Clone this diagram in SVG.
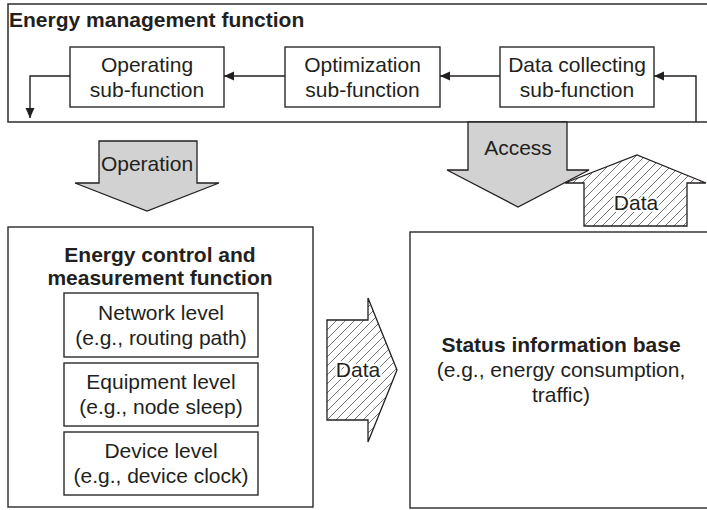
<svg xmlns="http://www.w3.org/2000/svg" width="707" height="510" viewBox="0 0 707 510">
<defs>
<style>
.box{fill:#fff;stroke:#2a2a2a;stroke-width:1.4}
.frame{fill:none;stroke:#3a3a3a;stroke-width:1.6}
.t{font-family:"Liberation Sans",Arial,sans-serif;font-size:21px;fill:#231f20;text-anchor:middle}
.b{font-weight:bold}
.conn{fill:none;stroke:#231f20;stroke-width:1.4}
.fat{fill:#d2d2d2;stroke:#231f20;stroke-width:1.3;stroke-linejoin:miter}
.hatch{fill:url(#hp);stroke:#231f20;stroke-width:1.3}
.knock{stroke:#fff;stroke-width:4;paint-order:stroke;stroke-linejoin:round}
</style>
<marker id="ah" viewBox="0 0 10 10" refX="10" refY="5" markerWidth="10" markerHeight="10" markerUnits="userSpaceOnUse" orient="auto">
<path d="M0,0.5 L10,5 L0,9.5 Z" fill="#231f20"/>
</marker>
<pattern id="hp" patternUnits="userSpaceOnUse" width="9" height="9">
<rect width="9" height="9" fill="#fff"/>
<path d="M-2.25,2.25 L2.25,-2.25 M0,9 L9,0 M6.75,11.25 L11.25,6.75" stroke="#3a3a3a" stroke-width="0.7"/>
</pattern>
</defs>
<rect width="707" height="510" fill="#fff"/>

<g id="energy-management-function">
<rect class="frame" x="8" y="4" width="710" height="118"/>
<text class="t b" x="9" y="27" style="text-anchor:start">Energy management function</text>
</g>

<g id="operating-sub-function">
<rect class="box" x="70" y="47" width="154" height="60"/>
<text class="t" x="147" y="72">Operating</text>
<text class="t" x="147" y="97">sub-function</text>
</g>

<g id="optimization-sub-function">
<rect class="box" x="285" y="47" width="155" height="60"/>
<text class="t" x="362.5" y="72">Optimization</text>
<text class="t" x="362.5" y="97">sub-function</text>
</g>

<g id="data-collecting-sub-function">
<rect class="box" x="500" y="47" width="154" height="60"/>
<text class="t" x="577" y="72">Data collecting</text>
<text class="t" x="577" y="97">sub-function</text>
</g>

<g id="energy-control-and-measurement-function">
<rect class="box" x="8" y="227" width="305" height="280"/>
<text class="t b" x="160" y="262">Energy control and</text>
<text class="t b" x="160" y="285">measurement function</text>
</g>

<g id="network-level">
<rect class="box" x="64" y="293" width="194" height="64"/>
<text class="t" x="161" y="320">Network level</text>
<text class="t" x="161" y="345">(e.g., routing path)</text>
</g>

<g id="equipment-level">
<rect class="box" x="64" y="363" width="194" height="63"/>
<text class="t" x="161" y="389">Equipment level</text>
<text class="t" x="161" y="414">(e.g., node sleep)</text>
</g>

<g id="device-level">
<rect class="box" x="64" y="432" width="194" height="63"/>
<text class="t" x="161" y="458">Device level</text>
<text class="t" x="161" y="483">(e.g., device clock)</text>
</g>

<g id="status-information-base">
<rect class="box" x="410" y="232" width="310" height="276"/>
<text class="t b" x="561" y="352">Status information base</text>
<text class="t" x="561" y="377">(e.g., energy consumption,</text>
<text class="t" x="561" y="402">traffic)</text>
</g>

<g id="connectors">
<path class="conn" d="M696,122 V76 H654" marker-end="url(#ah)"/>
<path class="conn" d="M500,76 H440" marker-end="url(#ah)"/>
<path class="conn" d="M285,76 H224" marker-end="url(#ah)"/>
<path class="conn" d="M70,76 H30 V118" marker-end="url(#ah)"/>

<g id="operation-arrow">
<path class="fat" d="M99,141 H197 V183 H219 L147,211 L75,183 H99 Z"/>
<text class="t" x="147" y="171">Operation</text>
</g>

<g id="access-arrow">
<path class="fat" d="M468,122 H567 V170 H589 L518,207 L447,170 H468 Z"/>
<text class="t" x="518" y="155">Access</text>
</g>

<g id="data-up-arrow">
<path class="hatch" d="M584,226 V183 H565 L637,155 L706,183 H687 V226 Z"/>
<text class="t knock" x="636" y="210">Data</text>
</g>

<g id="data-right-arrow">
<path class="hatch" d="M327,320 H368 V298 L397,370 L368,442 V420 H327 Z"/>
<text class="t knock" x="358" y="377">Data</text>
</g>
</g>
</svg>
